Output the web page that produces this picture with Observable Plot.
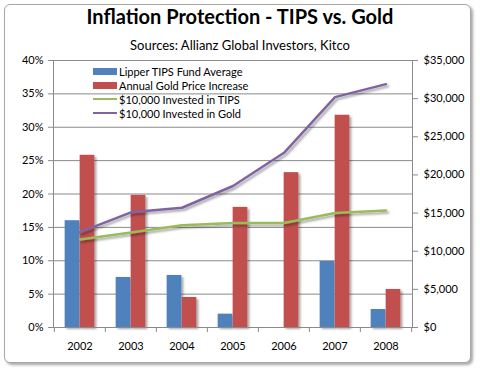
<!DOCTYPE html>
<html>
<head>
<meta charset="utf-8">
<script src="https://cdn.jsdelivr.net/npm/d3@7"></script>
<script src="https://cdn.jsdelivr.net/npm/@observablehq/plot@0.6"></script>
<style>
  html, body { margin: 0; padding: 0; background: #fff; }
  #wrap { position: relative; width: 480px; height: 371px; overflow: hidden; font-family: Lato, "Liberation Sans", sans-serif; }
  #box { position: absolute; left: 4px; top: 4px; width: 465px; height: 357px; border: 1px solid #a8a8a8; border-radius: 6px; box-shadow: 2px 2px 3px rgba(0,0,0,0.35); background: #fff; }
  #title { position: absolute; left: 0; width: 480px; top: 4px; text-align: center; font-weight: bold; font-size: 20px; color: #000; }
  #subtitle { position: absolute; left: 0; width: 480px; top: 37px; text-align: center; font-size: 13px; color: #000; }
  #chart { position: absolute; left: 0; top: 0; }
  #legend { position: absolute; left: 93px; top: 64px; font-size: 11px; color: #000; }
  .row { height: 14px; display: flex; align-items: center; }
  .sw { width: 24px; margin-right: 2px; }
</style>
</head>
<body>
<div id="wrap">
  <div id="box"></div>
  <div id="title">Inflation Protection - TIPS vs. Gold</div>
  <div id="subtitle">Sources: Allianz Global Investors, Kitco</div>
  <div id="chart"></div>
  <div id="legend"></div>
</div>
<script>
const years = ["2002", "2003", "2004", "2005", "2006", "2007", "2008"];
const tipsFundReturn = [16.0, 7.5, 7.8, 2.0, 0.0, 9.9, 2.7];
const goldPriceIncrease = [25.8, 19.8, 4.5, 18.0, 23.2, 31.8, 5.7];
const investedTips = [11550, 12450, 13400, 13700, 13700, 15000, 15350];
const investedGold = [12500, 15100, 15700, 18550, 22900, 30200, 31900];
const pctTicks = [0, 5, 10, 15, 20, 25, 30, 35, 40];
const dollarTicks = [0, 5000, 10000, 15000, 20000, 25000, 30000, 35000];
const dollarMax = 35000;
const pctMax = 40;

const seriesNames = ["Lipper TIPS Fund Average", "Annual Gold  Price Increase", "$10,000 Invested in TIPS", "$10,000 Invested in Gold"];
const colors = ["#4F81BD", "#C0504D", "#9BBB59", "#8064A2"];

const W = 480, H = 371, mL = 53, mR = 68, mT = 60, mB = 44;
const bw = (W - mL - mR) / years.length;
const barW = 15;

const table = years.map((y, i) => ({year: y, tips: tipsFundReturn[i], gold: goldPriceIncrease[i], invTips: investedTips[i], invGold: investedGold[i]}));
const toPct = v => v / dollarMax * pctMax;
const fmt = d3.format(",");

const plot = Plot.plot({
  width: W, height: H,
  marginLeft: mL, marginRight: mR, marginTop: mT, marginBottom: mB,
  style: {fontFamily: "Lato, 'Liberation Sans', sans-serif", fontSize: "11px", color: "#000", background: "transparent", overflow: "visible"},
  x: {type: "band", domain: years, padding: 0, label: null},
  y: {domain: [0, pctMax], label: null},
  marks: [
    Plot.gridY(pctTicks, {stroke: "#8a8a8a", strokeOpacity: 1}),
    Plot.barY(table, {x: "year", y: "tips", fill: colors[0], insetLeft: bw / 2 - barW, insetRight: bw / 2}),
    Plot.barY(table, {x: "year", y: "gold", fill: colors[1], insetLeft: bw / 2, insetRight: bw / 2 - barW}),
    Plot.line(table, {x: "year", y: d => toPct(d.invTips), stroke: colors[2], strokeWidth: 2.5}),
    Plot.line(table, {x: "year", y: d => toPct(d.invGold), stroke: colors[3], strokeWidth: 2.5}),
    Plot.frame({stroke: "#8a8a8a"}),
    Plot.axisY({anchor: "left", ticks: pctTicks, tickFormat: d => d + "%", tickSize: 5, tickPadding: 5, stroke: "#8a8a8a", label: null}),
    Plot.axisY({anchor: "right", ticks: dollarTicks.map(toPct), tickFormat: d => "$" + fmt(Math.round(d / pctMax * dollarMax)), tickSize: 5, tickPadding: 6, stroke: "#8a8a8a", label: null}),
    Plot.axisX({ticks: years, tickSize: 5, tickFormat: () => "", dx: -bw / 2, stroke: "#8a8a8a", label: null}),
    Plot.axisX({ticks: [years[years.length - 1]], tickSize: 5, tickFormat: () => "", dx: bw / 2, stroke: "#8a8a8a", label: null}),
    Plot.axisX({ticks: years, tickSize: 0, tickPadding: 15, label: null})
  ]
});

// drop shadows like the original
const svg = d3.select(plot);
const defs = svg.insert("defs", ":first-child");
const f = defs.append("filter").attr("id", "sh").attr("x", "-20%").attr("y", "-20%").attr("width", "150%").attr("height", "150%");
f.append("feDropShadow").attr("dx", 2).attr("dy", 2).attr("stdDeviation", 1.2).attr("flood-color", "#000").attr("flood-opacity", 0.35);
svg.selectAll("g[aria-label='bar'], g[aria-label='line'], path[aria-label='line']").attr("filter", "url(#sh)");
document.getElementById("chart").appendChild(plot);

// legend
const lg = d3.select("#legend");
seriesNames.forEach((n, i) => {
  const r = lg.append("div").attr("class", "row");
  if (i < 2) r.append("div").attr("class", "sw").style("height", "7px").style("background", colors[i]);
  else r.append("div").attr("class", "sw").style("height", "2.5px").style("background", colors[i]);
  r.append("span").text(n);
});
</script>
</body>
</html>
